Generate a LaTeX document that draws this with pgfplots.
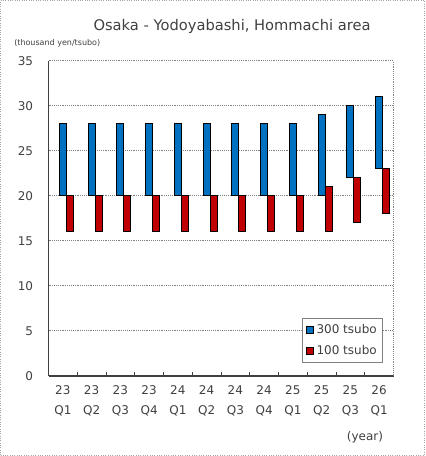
\documentclass[border=0pt]{standalone}
\usepackage{pgfplots}
\pgfplotsset{compat=1.18}
\usepackage{pgfplotstable}
\usepackage{fontspec}
\setmainfont{DejaVu Sans}
\definecolor{bblue}{RGB}{0,112,192}
\definecolor{bred}{RGB}{192,0,0}
\definecolor{txt}{RGB}{64,64,64}
\pgfplotstableread{
x bl bh rl rh
0 20 28 16 20
1 20 28 16 20
2 20 28 16 20
3 20 28 16 20
4 20 28 16 20
5 20 28 16 20
6 20 28 16 20
7 20 28 16 20
8 20 28 16 20
9 20 29 16 21
10 22 30 17 22
11 23 31 18 23
}\datatab
\pgfplotsset{common/.style={
  at={(36.375pt,60pt)}, anchor=south west,
  scale only axis, width=258.75pt, height=236.25pt,
  ybar stacked, bar width=5.25pt,
  xmin=-0.5, xmax=11.5, ymin=0, ymax=35,
}}
\begin{document}
\begin{tikzpicture}
\useasboundingbox (0,0) rectangle (318.75pt,342pt);
\draw[gray!70, densely dotted, line width=0.75pt] (0.4pt,0.4pt) rectangle (318.35pt,341.6pt);
\begin{axis}[
  common,
  ytick={0,5,...,35},
  xtick={0,...,11},
  xticklabels={{23\\Q1},{23\\Q2},{23\\Q3},{23\\Q4},{24\\Q1},{24\\Q2},{24\\Q3},{24\\Q4},{25\\Q1},{25\\Q2},{25\\Q3},{26\\Q1}},
  minor xtick={0.5,1.5,...,10.5},
  major tick length=0pt, minor tick length=3pt,
  minor tick style={txt, line width=0.75pt},
  axis x line*=bottom, axis y line*=left,
  axis line style={txt, line width=1.1pt, -},
  ymajorgrids, grid style={gray, densely dotted, line width=0.75pt},
  extra x ticks={11.5}, extra x tick labels={},
  extra x tick style={grid=major, major tick length=0pt},
  /pgf/number format/assume math mode=true,
  ticklabel style={font=\fontsize{9pt}{11pt}\selectfont, text=txt},
  xticklabel style={align=center, font=\fontsize{9pt}{15pt}\selectfont, yshift=-4pt},
  yticklabel style={xshift=-8pt},
]
\addplot[draw=none, fill=none, bar shift=0pt, forget plot] table[x=x, y=bl] {\datatab};
\addplot[draw=black, fill=bblue, line width=0.75pt, bar shift=0pt, forget plot] table[x=x, y expr=\thisrow{bh}-\thisrow{bl}] {\datatab};
\end{axis}
\begin{axis}[
  common, hide axis,
  legend style={at={(0.97,0.184)}, anchor=north east, draw=gray, line width=0.6pt,
    font=\fontsize{9pt}{11pt}\selectfont, text=txt, row sep=3pt, inner sep=2.5pt,
    /tikz/every even column/.append style={column sep=2pt}},
  legend cell align=left,
  legend image code/.code={\draw[#1, line width=0.6pt] (0pt,-2.6pt) rectangle (5.2pt,2.6pt);},
]
\addlegendimage{draw=black, fill=bblue}
\addlegendentry{300 tsubo}
\addplot[draw=none, fill=none, bar shift=5.25pt, forget plot] table[x=x, y=rl] {\datatab};
\addplot[draw=black, fill=bred, line width=0.75pt, bar shift=5.25pt] table[x=x, y expr=\thisrow{rh}-\thisrow{rl}] {\datatab};
\addlegendentry{100 tsubo}
\end{axis}
\node[text=txt, font=\fontsize{11pt}{13pt}\selectfont] at (174pt,322.5pt) {Osaka - Yodoyabashi, Hommachi area};
\node[text=txt, font=\fontsize{6pt}{7pt}\selectfont, anchor=west, inner sep=0pt] at (10.5pt,309.75pt) {(thousand yen/tsubo)};
\node[text=txt, font=\fontsize{9pt}{11pt}\selectfont, anchor=east, inner sep=0pt] at (287.5pt,14.25pt) {(year)};
\end{tikzpicture}
\end{document}
